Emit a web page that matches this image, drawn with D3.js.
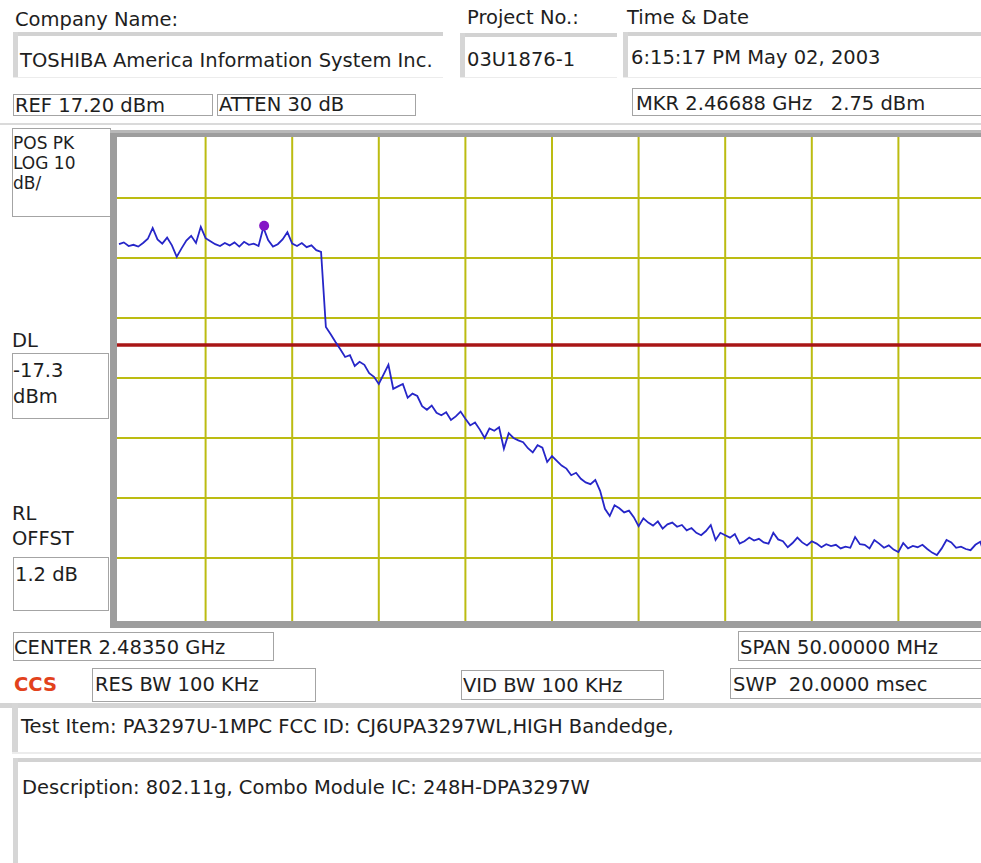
<!DOCTYPE html>
<html>
<head>
<meta charset="utf-8">
<script src="https://cdn.jsdelivr.net/npm/d3@7/dist/d3.min.js"></script>
<style>
  html, body { margin: 0; padding: 0; background: #fff; }
  svg text { font-family: "DejaVu Sans", Verdana, sans-serif; font-size: 19.5px; fill: #1e1e1e; white-space: pre; }
  svg text.small { font-size: 17px; }
</style>
</head>
<body>
<div id="chart"></div>
<script>
// analyzer settings
var refLevel = 17.2;        // dBm, top of graticule
var dbPerDiv = 10;
var vDivs = 8;
var hDivs = 10;
var centerGHz = 2.48350;
var spanMHz = 50;
var displayLine = -17.3;    // DL, dBm
var markerGHz = 2.46688;
var markerLevel = 2.75;

// trace, dBm, one value per sweep point (181 points across the span)
var traceDbm = [
  -0.5, -0.2, -0.8, -0.6, -0.9, -0.3, 0.4, 2.2, 0.3, -0.4,
  0.6, -0.7, -2.6, -1.2, 0.1, 0.9, -0.3, 2.4, 0.5, 0.0,
  -0.5, -0.8, -0.3, -0.7, -0.2, -0.9, -0.1, -0.6, -0.4, -0.8,
  2.3, 0.2, -0.9, -0.5, 0.3, 1.5, -0.4, -0.8, -0.3, -1.0,
  -0.7, -1.5, -1.8, -14.3, -15.5, -16.8, -18.0, -19.3, -19.0, -20.8,
  -20.1, -20.6, -22.0, -22.6, -23.8, -22.2, -20.6, -24.6, -24.2, -23.8,
  -26.1, -25.4, -25.8, -27.5, -28.1, -27.4, -28.6, -29.0, -28.5, -29.8,
  -29.2, -28.4, -29.6, -30.7, -30.2, -31.4, -32.8, -31.2, -31.6, -31.0,
  -34.6, -32.0, -32.8, -33.2, -33.5, -34.5, -35.2, -34.0, -34.4, -36.8,
  -35.8, -36.6, -37.4, -37.9, -39.0, -38.6, -39.6, -40.2, -40.5, -39.8,
  -41.6, -44.6, -45.8, -44.0, -44.5, -45.2, -44.9, -46.0, -47.5, -46.2,
  -46.9, -47.4, -46.7, -47.9, -47.2, -46.9, -47.6, -47.3, -48.2, -47.8,
  -48.6, -49.0, -48.3, -47.3, -49.8, -48.6, -49.0, -49.4, -48.8, -50.4,
  -50.0, -49.4, -49.9, -49.6, -50.2, -50.4, -48.6, -49.7, -50.0, -51.0,
  -50.3, -49.4, -50.2, -50.7, -50.0, -50.4, -51.0, -50.5, -50.8, -50.6,
  -51.2, -50.9, -51.1, -49.3, -50.5, -50.6, -51.2, -49.8, -50.4, -51.1,
  -50.7, -51.4, -51.8, -50.3, -51.2, -50.8, -51.0, -50.6, -51.3, -51.9,
  -52.3, -51.2, -49.8, -50.2, -51.1, -50.9, -51.3, -51.5, -50.6, -50.1,
  -52.3
];

var width = 981, height = 863;
var plot = {left: 119, right: 985, top: 138, bottom: 618};

var svg = d3.select("#chart").append("svg")
    .attr("width", width)
    .attr("height", height);

svg.append("rect").attr("width", width).attr("height", height).attr("fill", "#fff");

function label(x, cy, txt, cls) {
  return svg.append("text")
    .attr("x", x).attr("y", cy).attr("dy", "0.36em")
    .attr("class", cls || null)
    .attr("xml:space", "preserve")
    .text(txt);
}

// plain thin-bordered field
function field(x, y, w, h) {
  svg.append("rect")
    .attr("x", x + 0.5).attr("y", y + 0.5)
    .attr("width", w).attr("height", h)
    .attr("fill", "#fff")
    .attr("stroke", "#a4a4a4")
    .attr("stroke-width", 1);
}

// sunken field: thick grey top and left edge
function sunken(x, y, w, h) {
  svg.append("rect").attr("x", x).attr("y", y).attr("width", w).attr("height", h).attr("fill", "#fff");
  svg.append("rect").attr("x", x).attr("y", y).attr("width", w).attr("height", 4).attr("fill", "#d2d2d2");
  svg.append("rect").attr("x", x).attr("y", y).attr("width", 5).attr("height", h).attr("fill", "#d6d6d6");
  svg.append("rect").attr("x", x).attr("y", y + h - 1).attr("width", w).attr("height", 1).attr("fill", "#ececec");
}

// header
label(15, 19, "Company Name:");
label(467, 17, "Project No.:");
label(627, 17, "Time & Date");
sunken(13, 32, 430, 46);
sunken(460, 33, 157, 45);
sunken(623, 32, 370, 46);
label(20, 60, "TOSHIBA America Information System Inc.");
label(467, 59, "03U1876-1");
label(631, 57, "6:15:17 PM May 02, 2003");

field(13, 94, 199, 21);
label(15, 105, "REF 17.20 dBm");
field(217, 94, 198, 21);
label(219, 104, "ATTEN 30 dB");
field(632, 88, 360, 27);
label(636, 103, "MKR " + markerGHz.toFixed(5) + " GHz   " + markerLevel.toFixed(2) + " dBm");

svg.append("rect").attr("x", 0).attr("y", 123).attr("width", width).attr("height", 2).attr("fill", "#dadada");

// left side readouts
field(12, 128, 98, 88);
label(13, 143, "POS PK", "small");
label(13, 163, "LOG " + dbPerDiv, "small");
label(13, 183, "dB/", "small");

label(12, 340, "DL");
field(12, 353, 96, 65);
label(13, 370, displayLine.toFixed(1));
label(13, 396, "dBm");

label(12, 513, "RL");
label(12, 538, "OFFST");
field(13, 557, 95, 53);
label(15, 574, "1.2 dB");

// graticule frame
svg.append("rect").attr("x", 110).attr("y", 130).attr("width", 890).attr("height", 498).attr("fill", "#9d9d9d");
svg.append("rect").attr("x", 110).attr("y", 130).attr("width", 890).attr("height", 3).attr("fill", "#b8b8b8");
svg.append("rect").attr("x", 117).attr("y", 137).attr("width", 880).attr("height", 484).attr("fill", "#fff");

var startGHz = centerGHz - spanMHz / 2000;
var stopGHz = centerGHz + spanMHz / 2000;

var x = d3.scaleLinear().domain([startGHz, stopGHz]).range([plot.left, plot.right]);
var y = d3.scaleLinear().domain([refLevel - vDivs * dbPerDiv, refLevel]).range([plot.bottom, plot.top]);

var g = svg.append("g");
g.append("clipPath").attr("id", "plotclip")
  .append("rect").attr("x", 117).attr("y", 137).attr("width", 880).attr("height", 484);

var grid = g.append("g").attr("clip-path", "url(#plotclip)");
var xTicks = d3.range(1, hDivs).map(function(k) { return startGHz + k * spanMHz / hDivs / 1000; });
var yTicks = d3.range(1, vDivs).map(function(k) { return refLevel - k * dbPerDiv; });

grid.selectAll("line.v").data(xTicks).enter().append("line")
  .attr("class", "v")
  .attr("x1", function(d) { return x(d); }).attr("x2", function(d) { return x(d); })
  .attr("y1", 137).attr("y2", 621)
  .attr("stroke", "#bcbc12").attr("stroke-width", 2);

grid.selectAll("line.h").data(yTicks).enter().append("line")
  .attr("class", "h")
  .attr("x1", 117).attr("x2", 997)
  .attr("y1", function(d) { return y(d); }).attr("y2", function(d) { return y(d); })
  .attr("stroke", "#bcbc12").attr("stroke-width", 2);

// display line
grid.append("line")
  .attr("x1", 117).attr("x2", 997)
  .attr("y1", y(displayLine)).attr("y2", y(displayLine))
  .attr("stroke", "#a81616").attr("stroke-width", 3.5);

// trace
var n = traceDbm.length;
var line = d3.line()
  .x(function(d, i) { return x(startGHz + i * (stopGHz - startGHz) / (n - 1)); })
  .y(function(d) { return y(d); });

grid.append("path")
  .datum(traceDbm)
  .attr("d", line)
  .attr("fill", "none")
  .attr("stroke", "#2626c8")
  .attr("stroke-width", 1.8)
  .attr("stroke-linejoin", "miter");

// marker
grid.append("circle")
  .attr("cx", x(markerGHz)).attr("cy", y(markerLevel) + 1)
  .attr("r", 5)
  .attr("fill", "#8416c6");

// footer
field(13, 632, 260, 28);
label(14, 647, "CENTER " + centerGHz.toFixed(5) + " GHz");
field(738, 631, 260, 29);
label(740, 647, "SPAN " + spanMHz.toFixed(5) + " MHz");

svg.append("text")
  .attr("x", 14).attr("y", 684).attr("dy", "0.36em")
  .style("font-weight", "bold").style("fill", "#e2421c")
  .text("CCS");
field(92, 668, 223, 33);
label(95, 684, "RES BW 100 KHz");
field(461, 670, 202, 29);
label(463, 685, "VID BW 100 KHz");
field(730, 668, 260, 30);
label(733, 684, "SWP  20.0000 msec");

svg.append("rect").attr("x", 0).attr("y", 703).attr("width", width).attr("height", 5).attr("fill", "#d4d4d4");
svg.append("rect").attr("x", 12).attr("y", 703).attr("width", 6).attr("height", 50).attr("fill", "#d6d6d6");
svg.append("rect").attr("x", 12).attr("y", 752).attr("width", width).attr("height", 2).attr("fill", "#ececec");
label(21, 726, "Test Item: PA3297U-1MPC FCC ID: CJ6UPA3297WL,HIGH Bandedge,");

sunken(13, 758, 990, 110);
label(22, 787, "Description: 802.11g, Combo Module IC: 248H-DPA3297W");
</script>
</body>
</html>
